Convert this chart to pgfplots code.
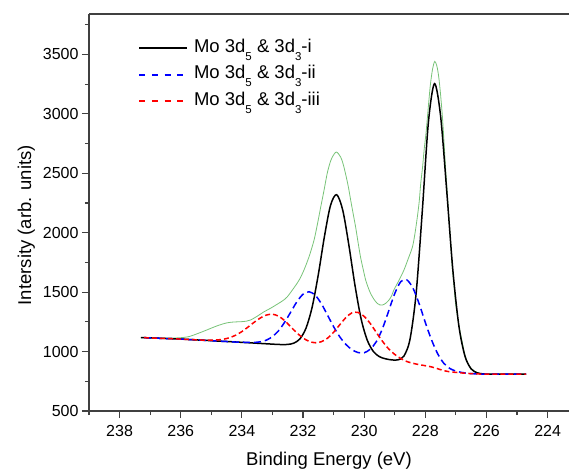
\documentclass[border=0pt]{standalone}
\usepackage{fontspec}
\setmainfont{Liberation Sans}
\usepackage{pgfplots}
\pgfplotsset{compat=1.18}
\definecolor{envgreen}{RGB}{120,195,120}
\definecolor{dblue}{RGB}{0,0,255}
\definecolor{dred}{RGB}{255,0,0}
\newcommand{\sub}[1]{\raisebox{-8pt}{\fontsize{11.5}{11.5}\selectfont #1}}
\begin{document}
\begin{tikzpicture}
\begin{axis}[
  at={(0,0)}, anchor=south west,
  scale only axis,
  width=480pt, height=397pt,
  x dir=reverse,
  xmin=223.3, xmax=239,
  ymin=500, ymax=3840,
  axis x line*=box, axis y line*=left,
  axis line style={-, line width=1.4pt, color=black!75},
  tick pos=left,
  tick align=outside,
  major tick length=7pt, minor tick length=4pt,
  every tick/.style={line width=1.2pt, black!75},
  xtick={224,226,...,238},
  minor xtick={225,227,...,239},
  ytick={500,1000,...,3500},
  minor ytick={750,1250,...,3750},
  xticklabels={224,226,228,230,232,234,236,238},
  yticklabels={500,1000,1500,2000,2500,3000,3500},
  xticklabel style={font=\fontsize{16}{16}\selectfont, yshift=-4pt},
  yticklabel style={font=\fontsize{16}{16}\selectfont},
  xlabel={Binding Energy (eV)},
  ylabel={Intersity (arb. units)},
  every axis x label/.style={at={(axis description cs:0.5,0)}, anchor=base, yshift=-54pt, font=\fontsize{18.5}{18.5}\selectfont},
  every axis y label/.style={at={(axis description cs:-0.1208,0.468)}, rotate=90, anchor=base, font=\fontsize{18.5}{18.5}\selectfont},
  legend style={at={(axis description cs:0.102,0.945)}, anchor=north west, draw=none, fill=none,
    font=\fontsize{18.5}{18.5}\selectfont, inner sep=0pt, row sep=2pt,
    nodes={inner sep=2pt, text height=14pt, text depth=6.5pt}},
  legend cell align=left,
  legend image code/.code={\draw[#1] (0pt,0pt) -- (48pt,0pt); \path (52pt,0pt);},
]
\addlegendimage{draw=black, line width=1.9pt}
\addlegendentry{Mo 3d\sub{5} \& 3d\sub{3}-i}
\addlegendimage{draw=dblue, line width=1.9pt, dash pattern=on 6pt off 6.7pt}
\addlegendentry{Mo 3d\sub{5} \& 3d\sub{3}-ii}
\addlegendimage{draw=dred, line width=1.9pt, dash pattern=on 6pt off 6.7pt}
\addlegendentry{Mo 3d\sub{5} \& 3d\sub{3}-iii}
% envelope
\addplot[envgreen, line width=0.8pt, smooth, forget plot] coordinates {
(237.3,1117) (237.0,1116) (236.6,1114) (236.2,1114) (235.9,1119) (235.7,1128) (235.46,1150) (235.2,1176) (235.02,1195) (234.75,1222) (234.48,1242) (234.25,1249) (234.04,1251) (233.85,1256) (233.71,1266) (233.5,1297) (233.28,1334) (233.05,1366) (232.84,1399) (232.65,1430) (232.51,1462) (232.3,1535) (232.13,1600) (231.97,1685) (231.8,1800) (231.64,1937) (231.53,2070) (231.42,2217) (231.31,2360) (231.21,2497) (231.12,2585) (231.04,2637) (230.91,2679) (230.77,2637) (230.69,2580) (230.61,2497) (230.52,2390) (230.44,2273) (230.36,2160) (230.28,2049) (230.2,1920) (230.12,1797) (230.03,1690) (229.95,1601) (229.87,1540) (229.79,1489) (229.68,1440) (229.57,1405) (229.49,1393) (229.41,1391) (229.3,1405) (229.19,1433) (229.1,1470) (229.03,1517) (228.86,1600) (228.70,1685) (228.56,1780) (228.42,1881) (228.34,1990) (228.26,2133) (228.2,2260) (228.15,2413) (228.09,2550) (228.04,2693) (227.98,2830) (227.93,2973) (227.88,3120) (227.83,3254) (227.76,3380) (227.69,3441) (227.62,3400) (227.56,3309) (227.5,3160) (227.44,2973) (227.39,2770) (227.34,2553) (227.28,2330) (227.23,2133) (227.17,1910) (227.12,1713) (227.06,1550) (227.01,1405) (226.9,1218) (226.8,1090) (226.7,968) (226.6,900) (226.5,858) (226.3,822) (226.1,812) (225.9,810) (225.5,810) (225.0,810) (224.7,810)
};
% component i
\addplot[black, line width=1.5pt, smooth, forget plot] coordinates {
(237.3,1118) (237.1,1116) (236.9,1114) (236.7,1112) (236.5,1110) (236.3,1108) (236.1,1106) (235.9,1104) (235.7,1101) (235.5,1098) (235.3,1096) (235.1,1093) (234.9,1090) (234.7,1087) (234.5,1085) (234.3,1082) (234.1,1079) (233.9,1076) (233.7,1073) (233.5,1070) (233.3,1067) (233.1,1064) (232.9,1061) (232.7,1059) (232.5,1060) (232.3,1071) (232.1,1107) (231.9,1198) (231.7,1375) (231.5,1647) (231.3,1967) (231.1,2230) (230.9,2320) (230.7,2189) (230.5,1895) (230.3,1557) (230.1,1275) (229.9,1097) (229.7,1001) (229.5,957) (229.3,939) (229.1,930) (228.9,930) (228.7,962) (228.5,1104) (228.3,1490) (228.1,2176) (227.9,2925) (227.7,3254) (227.5,2982) (227.3,2354) (227.1,1689) (226.9,1212) (226.7,959) (226.5,854) (226.3,821) (226.1,812) (225.9,810) (225.5,810) (225.0,810) (224.7,810)
};
% component ii
\addplot[draw=dblue, line width=1.5pt, dash pattern=on 7pt off 4pt, smooth, forget plot] coordinates {
(237.2,1117) (237.0,1115) (236.8,1113) (236.6,1111) (236.4,1109) (236.2,1107) (236.0,1105) (235.8,1102) (235.6,1100) (235.4,1097) (235.2,1094) (235.0,1092) (234.8,1089) (234.6,1086) (234.4,1083) (234.2,1080) (234.0,1079) (233.8,1077) (233.6,1077) (233.4,1082) (233.2,1096) (233.0,1126) (232.8,1175) (232.6,1247) (232.4,1333) (232.2,1419) (232.0,1482) (231.8,1503) (231.6,1474) (231.4,1403) (231.2,1307) (231.0,1210) (230.8,1125) (230.6,1061) (230.4,1016) (230.2,992) (230.0,990) (229.8,1020) (229.6,1084) (229.4,1194) (229.2,1340) (229.0,1488) (228.8,1589) (228.6,1602) (228.4,1532) (228.2,1401) (228.0,1245) (227.8,1101) (227.6,984) (227.4,903) (227.2,858) (227.0,836) (226.8,824) (226.6,817) (226.4,813) (226.2,811) (226.0,810) (225.6,810) (225.2,810) (224.8,810) (224.7,810)
};
% component iii
\addplot[draw=dred, line width=1.5pt, dash pattern=on 5pt off 3pt, smooth, forget plot] coordinates {
(237.2,1117) (237.0,1115) (236.8,1113) (236.6,1111) (236.4,1109) (236.2,1107) (236.0,1105) (235.8,1102) (235.6,1100) (235.4,1098) (235.2,1096) (235.0,1096) (234.8,1098) (234.6,1104) (234.4,1117) (234.2,1138) (234.0,1168) (233.8,1206) (233.6,1246) (233.4,1282) (233.2,1307) (233.0,1314) (232.8,1298) (232.6,1260) (232.4,1208) (232.2,1157) (232.0,1114) (231.8,1086) (231.6,1074) (231.4,1083) (231.2,1112) (231.0,1162) (230.8,1225) (230.6,1285) (230.4,1326) (230.2,1329) (230.0,1296) (229.8,1236) (229.6,1160) (229.4,1086) (229.2,1023) (229.0,976) (228.8,941) (228.6,916) (228.4,901) (228.2,890) (228.0,881) (227.8,871) (227.6,856) (227.4,840) (227.2,830) (227.0,825) (226.8,820) (226.6,816) (226.4,813) (226.2,811) (226.0,810) (225.6,810) (225.2,810) (224.8,810) (224.7,810)
};
\end{axis}
\pgfresetboundingbox
\path[use as bounding box] (-89pt,-59pt) rectangle (480pt,411pt);
\end{tikzpicture}
\end{document}
